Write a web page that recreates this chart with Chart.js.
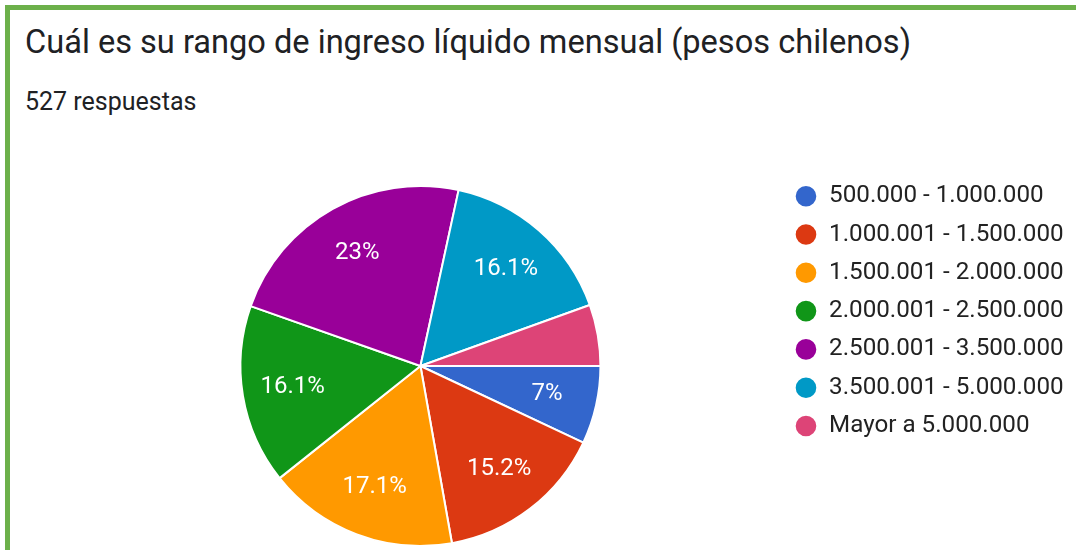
<!DOCTYPE html>
<html lang="es">
<head>
<meta charset="utf-8">
<title>Rango de ingreso líquido mensual</title>
<script src="https://cdn.jsdelivr.net/npm/chart.js@4/dist/chart.umd.min.js"></script>
<style>
  html, body {
    margin: 0;
    padding: 0;
    width: 1076px;
    height: 550px;
    overflow: hidden;
    background: #fff;
    font-family: Roboto, 'Noto Sans', sans-serif;
  }
  .frame {
    position: absolute;
    left: 5px;
    top: 5px;
    width: 1200px;
    height: 700px;
    border-left: 5px solid #6cb04a;
    border-top: 5px solid #6cb04a;
  }
  .title {
    position: absolute;
    left: 25px;
    top: 26px;
    font-size: 32.6px;
    line-height: 32px;
    color: #202124;
    white-space: nowrap;
  }
  .subtitle {
    position: absolute;
    left: 25px;
    top: 89px;
    font-size: 25px;
    line-height: 25px;
    color: #202124;
    white-space: nowrap;
  }
  .chart-box {
    position: absolute;
    left: 0;
    top: 0;
    width: 1076px;
    height: 600px;
  }
</style>
</head>
<body>
<div class="frame"></div>
<div class="title">Cuál es su rango de ingreso líquido mensual (pesos chilenos)</div>
<div class="subtitle">527 respuestas</div>
<div class="chart-box"><canvas id="incomeChart"></canvas></div>

<script>
const labels = [
    '500.000 - 1.000.000',
    '1.000.001 - 1.500.000',
    '1.500.001 - 2.000.000',
    '2.000.001 - 2.500.000',
    '2.500.001 - 3.500.000',
    '3.500.001 - 5.000.000',
    'Mayor a 5.000.000',
];
const percents = [7, 15.2, 17.1, 16.1, 23, 16.1, 5.5];
const colors = ['#3366cc', '#dc3912', '#ff9900', '#109618', '#990099', '#0099c6', '#dd4477'];

// slice labels, drawn like google forms (small slices get none)
const sliceLabels = {
    id: 'sliceLabels',
    afterDatasetsDraw(chart) {
        const ctx = chart.ctx;
        const meta = chart.getDatasetMeta(0);
        ctx.save();
        ctx.fillStyle = '#ffffff';
        ctx.font = '24px Roboto';
        ctx.textAlign = 'center';
        ctx.textBaseline = 'middle';
        meta.data.forEach((arc, i) => {
            const value = percents[i];
            if (value < 6) {
                return;
            }
            const {x, y, startAngle, endAngle, outerRadius} = arc.getProps(['x', 'y', 'startAngle', 'endAngle', 'outerRadius'], true);
            const mid = (startAngle + endAngle) / 2;
            const r = outerRadius * 0.72;
            ctx.fillText(value + '%', x + Math.cos(mid) * r, y + Math.sin(mid) * r);
        });
        ctx.restore();
    },
};

window.addEventListener('DOMContentLoaded', () => {
    const canvas = document.getElementById('incomeChart');

    new Chart(canvas, {
        type: 'pie',
        data: {
            labels,
            datasets: [
                {
                    data: percents,
                    backgroundColor: colors,
                    borderColor: '#ffffff',
                    borderWidth: 2,
                    radius: 180,
                },
            ],
        },
        options: {
            responsive: true,
            maintainAspectRatio: false,
            animation: false,
            rotation: 90,
            events: [],
            layout: {
                padding: {left: 60, right: 2.4, top: 170, bottom: 38},
            },
            plugins: {
                legend: {
                    position: 'right',
                    align: 'start',
                    labels: {
                        usePointStyle: true,
                        pointStyle: 'circle',
                        boxWidth: 22,
                        boxHeight: 16,
                        padding: 14.1,
                        color: '#222222',
                        font: {family: 'Roboto', size: 24.2},
                    },
                },
                tooltip: {enabled: false},
            },
        },
        plugins: [sliceLabels],
    });
});
</script>
</body>
</html>
